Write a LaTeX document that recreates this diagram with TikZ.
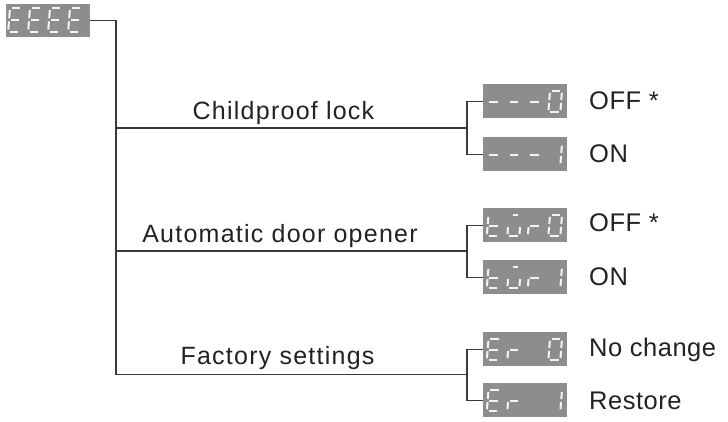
\documentclass[tikz,border=0pt]{standalone}
\usepackage{fontspec}
\newfontfamily\labfont{Liberation Sans}[LetterSpace=5]
\newfontfamily\optfont{Liberation Sans}[LetterSpace=2]
\definecolor{lngray}{HTML}{3A3A3A}
\definecolor{txtgray}{HTML}{222222}
\definecolor{lcdgray}{HTML}{8D8D8D}
\definecolor{segwhite}{HTML}{F4F4F4}
% seven-segment pieces (local coords, y downwards)
\def\sga{\draw[seg] (1.8,0) -- (10.2,0);}
\def\sgb{\draw[seg] (12,1.8) -- (12,9);}
\def\sgc{\draw[seg] (12,12) -- (12,19.2);}
\def\sgd{\draw[seg] (1.8,21) -- (10.2,21);}
\def\sge{\draw[seg] (0,12) -- (0,19.2);}
\def\sgf{\draw[seg] (0,1.8) -- (0,9);}
\def\sgg{\draw[seg] (1.8,10.5) -- (10.2,10.5);}
\def\sgu{\draw[seg] (3.5,0) -- (8.5,0);}
\newcommand{\lcdig}[5]{%
  \begin{scope}[shift={(#1.north west)},shift={(#2,#3)},xslant=0.08,#5]
    \foreach \s in {#4}{\csname sg\s\endcsname}
  \end{scope}}
\newcommand{\lcdrow}[5]{% node, four digits
  \lcdig{#1}{5.5}{7}{#2}{}%
  \lcdig{#1}{26}{7}{#3}{}%
  \lcdig{#1}{46.5}{7}{#4}{}%
  \lcdig{#1}{67}{7}{#5}{}}
\begin{document}
\begin{tikzpicture}[x=1pt,y=-1pt,
  ln/.style={draw=lngray,line width=1.3pt},
  lcdbox/.style={fill=lcdgray,draw=none,minimum width=84pt,minimum height=34pt,inner sep=0pt,anchor=north west},
  seg/.style={draw=segwhite,line width=2pt,line cap=butt},
  grplabel/.style={text=txtgray,font=\labfont\fontsize{25}{30}\selectfont,anchor=base,inner sep=0pt},
  optlabel/.style={text=txtgray,font=\optfont\fontsize{25.5}{30}\selectfont,anchor=base west,inner sep=0pt}]
\useasboundingbox (0,0) rectangle (728,421);

% top display
\node[lcdbox,minimum height=33pt] (E) at (6,4) {};
\foreach \xo in {4,24,44,64}{\lcdig{E}{\xo}{4}{a,f,g,e,d}{yscale=1.12}}

% option displays
\node[lcdbox] (c0) at (483,84) {};
\node[lcdbox] (c1) at (483,137) {};
\node[lcdbox] (d0) at (483,208) {};
\node[lcdbox] (d1) at (483,260) {};
\node[lcdbox] (f0) at (483,332) {};
\node[lcdbox] (f1) at (483,383) {};
\lcdrow{c0}{g}{g}{g}{a,b,c,d,e,f}
\lcdrow{c1}{g}{g}{g}{b,c}
\lcdrow{d0}{f,g,e,d}{u,e,d,c}{g,e}{a,b,c,d,e,f}
\lcdrow{d1}{f,g,e,d}{u,e,d,c}{g,e}{b,c}
\lcdrow{f0}{a,f,g,e,d}{g,e}{}{a,b,c,d,e,f}
\lcdrow{f1}{a,f,g,e,d}{g,e}{}{b,c}

% trunk and branches
\coordinate (tb) at (116,374.5);
\coordinate (h1) at (116,128);
\coordinate (h2) at (116,251);
\coordinate (j1) at (467,128);
\coordinate (j2) at (467,251);
\coordinate (j3) at (467,374.5);
\draw[ln] (E.east) -| (tb) -- (j3);
\draw[ln] (h1) -- (j1);
\draw[ln] (h2) -- (j2);
\draw[ln] (c0.west) -| (j1) |- (c1.west);
\draw[ln] (d0.west) -| (j2) |- (d1.west);
\draw[ln] (f0.west) -| (j3) |- (f1.west);

% group labels
\node[grplabel] (l1) at (283.5,119.3) {Childproof lock};
\node[grplabel] (l2) at (280,242.3) {Automatic door opener};
\node[grplabel] (l3) at (277.5,364.3) {Factory settings};

% option labels
\node[optlabel] (o1) at (589,109.5) {OFF *};
\node[optlabel] (o2) at (589,162) {ON};
\node[optlabel] (o3) at (589,231.7) {OFF *};
\node[optlabel] (o4) at (589,285) {ON};
\node[optlabel] (o5) at (589,356.7) {No change};
\node[optlabel] (o6) at (589,409) {Restore};
\end{tikzpicture}
\end{document}
